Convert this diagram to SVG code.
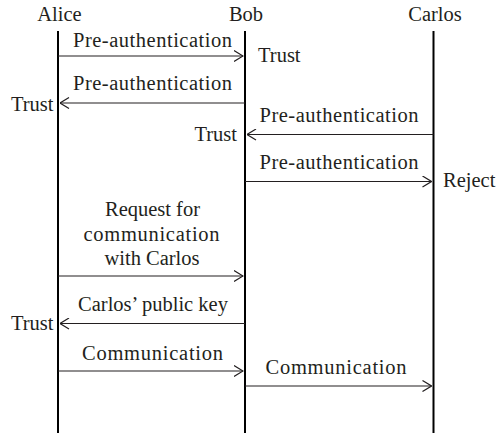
<svg xmlns="http://www.w3.org/2000/svg" width="496" height="433" viewBox="0 0 496 433">
  <style>
    text { font-family: "Liberation Serif", "Times New Roman", serif; font-size: 20.5px; fill: #231f20; }
    .mid { text-anchor: middle; }
    .end { text-anchor: end; }
    .life { stroke: #000; stroke-width: 2; fill: none; }
    .msg { stroke: #231f20; stroke-width: 1.2; fill: none; }
  </style>
  <defs>
    <!-- open chevron head shared by every message arrow -->
    <marker id="open" viewBox="0 0 10 12" refX="9.5" refY="6" markerWidth="10" markerHeight="12" markerUnits="userSpaceOnUse" orient="auto">
      <path d="M0.5,0.5 L9.5,6 L0.5,11.5" fill="none" stroke="#231f20" stroke-width="1.2"/>
    </marker>
  </defs>
  <rect width="496" height="433" fill="#fff"/>

  <!-- participants with their lifelines -->
  <g id="alice">
    <text class="mid" x="59.5" y="21">Alice</text>
    <line class="life" x1="58" y1="31" x2="58" y2="433"/>
  </g>
  <g id="bob">
    <text class="mid" x="246" y="21">Bob</text>
    <line class="life" x1="245" y1="31" x2="245" y2="433"/>
  </g>
  <g id="carlos">
    <text class="mid" x="435" y="21">Carlos</text>
    <line class="life" x1="433.5" y1="31" x2="433.5" y2="433"/>
  </g>

  <!-- messages -->
  <g id="connectors">
    <line class="msg" x1="58" y1="56" x2="243" y2="56" marker-end="url(#open)"/>
    <text class="mid" x="152.5" y="47" textLength="159" lengthAdjust="spacing">Pre-authentication</text>

    <line class="msg" x1="245" y1="103" x2="60" y2="103" marker-end="url(#open)"/>
    <text class="mid" x="152.5" y="90" textLength="159" lengthAdjust="spacing">Pre-authentication</text>

    <line class="msg" x1="433.5" y1="134.5" x2="247" y2="134.5" marker-end="url(#open)"/>
    <text class="mid" x="339" y="121.5" textLength="159" lengthAdjust="spacing">Pre-authentication</text>

    <line class="msg" x1="245" y1="181.5" x2="431.5" y2="181.5" marker-end="url(#open)"/>
    <text class="mid" x="339" y="168.5" textLength="159" lengthAdjust="spacing">Pre-authentication</text>

    <line class="msg" x1="58" y1="276" x2="243" y2="276" marker-end="url(#open)"/>
    <text class="mid" x="152.5" y="216">Request for</text>
    <text class="mid" x="151.5" y="240.5" textLength="136" lengthAdjust="spacing">communication</text>
    <text class="mid" x="152" y="265">with Carlos</text>

    <line class="msg" x1="245" y1="323.5" x2="60" y2="323.5" marker-end="url(#open)"/>
    <text class="mid" x="153" y="311">Carlos’ public key</text>

    <line class="msg" x1="58" y1="371" x2="243" y2="371" marker-end="url(#open)"/>
    <text class="mid" x="152.5" y="360" textLength="141" lengthAdjust="spacing">Communication</text>

    <line class="msg" x1="245" y1="386" x2="431.5" y2="386" marker-end="url(#open)"/>
    <text class="mid" x="336" y="374" textLength="141" lengthAdjust="spacing">Communication</text>
  </g>

  <!-- verdicts beside the lifelines -->
  <g id="outcomes">
    <text x="258" y="62">Trust</text>
    <text class="end" x="53.5" y="111">Trust</text>
    <text class="end" x="237" y="141">Trust</text>
    <text x="443" y="187">Reject</text>
    <text class="end" x="53.5" y="329.5">Trust</text>
  </g>
</svg>
